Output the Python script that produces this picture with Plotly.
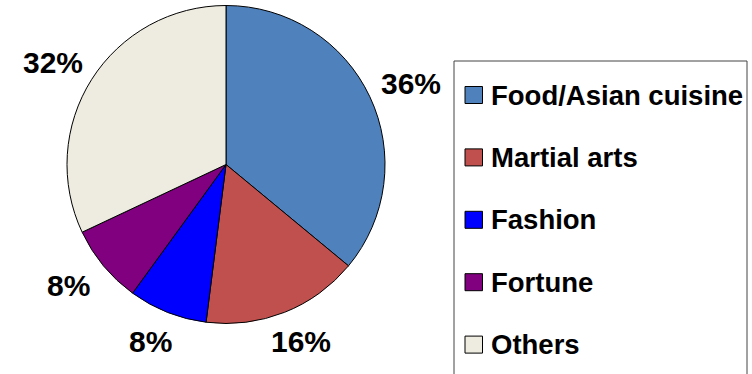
import math
import plotly.graph_objects as go

# Survey shares by category
labels = ["Food/Asian cuisine", "Martial arts", "Fashion", "Fortune", "Others"]
values = [36, 16, 8, 8, 32]
colors = ["#4F81BD", "#C0504D", "#0000FF", "#800080", "#EEECE1"]

W, H = 752, 374
FONT = "Arial, Liberation Sans, sans-serif"

# Pie geometry in pixels
cx, cy, r = 226, 164.5, 159
label_rx, label_ry = 205, 190

fig = go.Figure(go.Pie(
    labels=labels,
    values=values,
    marker=dict(colors=colors, line=dict(color="#000000", width=1)),
    sort=False,
    direction="clockwise",
    rotation=0,
    textinfo="none",
    hoverinfo="label+percent",
    showlegend=False,
    domain=dict(x=[(cx - r) / W, (cx + r) / W],
                y=[(H - (cy + r)) / H, (H - (cy - r)) / H]),
))

annotations = []
shapes = []

# Percentage labels placed outside each slice at its mid-angle
total = sum(values)
cum = 0.0
for v in values:
    mid = (cum + v / 2) / total * 2 * math.pi
    cum += v
    px = cx + label_rx * math.sin(mid)
    py = cy - label_ry * math.cos(mid)
    annotations.append(dict(
        x=px / W, y=(H - py) / H, xref="paper", yref="paper",
        text=f"{v / total * 100:.0f}%", showarrow=False,
        xanchor="center", yanchor="middle",
        font=dict(family=FONT, size=30, color="#000000", weight="bold"),
    ))

# Legend frame
shapes.append(dict(
    type="rect", xref="paper", yref="paper",
    x0=454 / W, x1=747 / W, y0=(H - 385) / H, y1=(H - 61) / H,
    line=dict(color="#444444", width=1), fillcolor="rgba(0,0,0,0)",
))

# Legend entries
row0, step = 95, 62.4
for i, (lab, col) in enumerate(zip(labels, colors)):
    yc = row0 + i * step
    shapes.append(dict(
        type="rect", xref="paper", yref="paper",
        x0=465 / W, x1=482.5 / W, y0=(H - (yc + 8.5)) / H, y1=(H - (yc - 8.5)) / H,
        line=dict(color="#000000", width=1), fillcolor=col,
    ))
    annotations.append(dict(
        x=489 / W, y=(H - yc) / H, xref="paper", yref="paper",
        text=lab, showarrow=False, xanchor="left", yanchor="middle",
        font=dict(family=FONT, size=27.5, color="#000000", weight="bold"),
    ))

fig.update_layout(
    width=W, height=H,
    margin=dict(l=0, r=0, t=0, b=0),
    paper_bgcolor="#FFFFFF",
    plot_bgcolor="#FFFFFF",
    annotations=annotations,
    shapes=shapes,
)

fig.write_html("out.html")
